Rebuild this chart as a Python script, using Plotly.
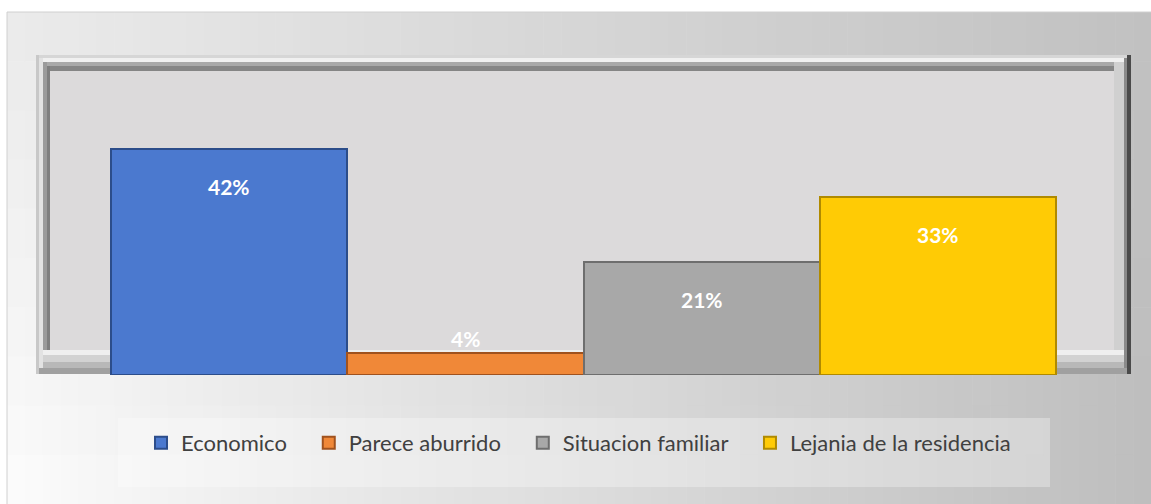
import plotly.graph_objects as go

# ---- data ----
categories = ["Economico", "Parece aburrido", "Situacion familiar", "Lejania de la residencia"]
values = [0.42, 0.04, 0.21, 0.33]
labels = ["42%", "4%", "21%", "33%"]
bar_colors = ["#4b79cf", "#f08838", "#a8a8a8", "#ffcb05"]
edge_colors = ["#2c4d8a", "#a0521e", "#6e6e6e", "#b08a00"]

W, H = 1151, 504
ML, MR, MT, MB = 36, 20, 56, 129
PW, PH = W - ML - MR, H - MT - MB


def px(x):
    return (x - ML) / PW


def py(y):
    return (H - MB - y) / PH


def rect(x0, y0, x1, y1, fill, line=None):
    d = dict(type="rect", xref="paper", yref="paper",
             x0=px(x0), x1=px(x1), y0=py(y1), y1=py(y0),
             fillcolor=fill, layer="below",
             line=dict(width=0) if line is None else line)
    return d


shapes = []
# background gradient (bilinear between corner greys)
TL, TR, BL, BR = 234, 193, 252, 189
ncol, nrow = 64, 10
x_start, x_end, y_start, y_end = 7, W, 12, H
for i in range(ncol):
    for j in range(nrow):
        fx = (i + 0.5) / ncol
        fy = (j + 0.5) / nrow
        v = (TL * (1 - fx) + TR * fx) * (1 - fy) + (BL * (1 - fx) + BR * fx) * fy
        v = int(round(v))
        x0 = x_start + (x_end - x_start) * i / ncol
        x1 = x_start + (x_end - x_start) * (i + 1) / ncol + 0.6
        y0 = y_start + (y_end - y_start) * j / nrow
        y1 = y_start + (y_end - y_start) * (j + 1) / nrow + 0.6
        shapes.append(rect(x0, y0, x1, y1, f"rgb({v},{v},{v})"))
# chart border
shapes.append(dict(type="rect", xref="paper", yref="paper",
                   x0=px(7), x1=px(W + 5), y0=py(H + 5), y1=py(12),
                   line=dict(color="#d0d0d0", width=1), layer="below"))

# plot-area beveled frame
shapes += [
    rect(36, 55, 1131, 374, "#bcbcbc"),
    rect(36, 55, 1131, 58, "#d6d6d6"),
    rect(38, 58, 1129, 62, "#f0f0f0"),
    rect(36, 55, 39, 374, "#c8c8c8"),
    rect(39, 58, 43, 372, "#e2e2e2"),
    rect(43, 62, 1124, 66, "#a8a8a8"),
    rect(43, 66, 1124, 71, "#858585"),
    rect(43, 62, 47, 362, "#9a9a9a"),
    rect(47, 66, 50, 356, "#7e7e7e"),
    rect(1114, 62, 1124, 360, "#d0d0d0"),
    rect(1124, 58, 1127, 374, "#8a8a8a"),
    rect(1127, 55, 1131, 374, "#4a4a4a"),
    rect(43, 350, 1124, 355, "#efefef"),
    rect(43, 355, 1124, 362, "#d2d2d2"),
    rect(43, 362, 1124, 368, "#b8b8b8"),
    rect(39, 368, 1127, 374, "#a0a0a0"),
    rect(50, 71, 1114, 350, "#dcdadb"),
]
# legend box
shapes.append(rect(118, 418, 1050, 487, "rgba(255,255,255,0.3)"))

fig = go.Figure()
for cat, val, col, ec in zip(categories, values, bar_colors, edge_colors):
    fig.add_trace(go.Bar(
        x=[cat], y=[val], name=cat + "\u00a0\u00a0\u00a0",
        marker=dict(color=col, line=dict(color=ec, width=2)),
        width=1.0, hovertemplate=cat + ": %{y:.0%}<extra></extra>",
    ))

annotations = []
for cat, val, lab in zip(categories, values, labels):
    inside = val >= 0.08
    annotations.append(dict(
        x=cat, y=val, xref="x", yref="y", text=f"<b>{lab}</b>",
        showarrow=False, yanchor="middle",
        yshift=-37 if inside else 15,
        font=dict(family="Lato", size=21, color="white"),
    ))

fig.update_layout(
    width=W, height=H,
    margin=dict(l=ML, r=MR, t=MT, b=MB, pad=0),
    paper_bgcolor="white",
    plot_bgcolor="rgba(0,0,0,0)",
    barmode="overlay",
    bargap=0,
    showlegend=True,
    legend=dict(
        orientation="h", x=px(141), xanchor="left", y=py(443), yanchor="middle",
        bgcolor="rgba(0,0,0,0)", font=dict(family="Lato", size=22, color="#404040"),
        traceorder="normal", itemclick=False,
    ),
    xaxis=dict(range=[-0.817, 3.817], showticklabels=False, showgrid=False,
               zeroline=False, showline=False, ticks="", fixedrange=True),
    yaxis=dict(range=[0, 0.593], showticklabels=False, showgrid=False,
               zeroline=False, showline=False, ticks="", fixedrange=True),
    shapes=shapes,
    annotations=annotations,
    font=dict(family="Lato"),
)

fig.write_html("out.html", config={"displayModeBar": False},
               post_script="document.body.style.margin='0';")
